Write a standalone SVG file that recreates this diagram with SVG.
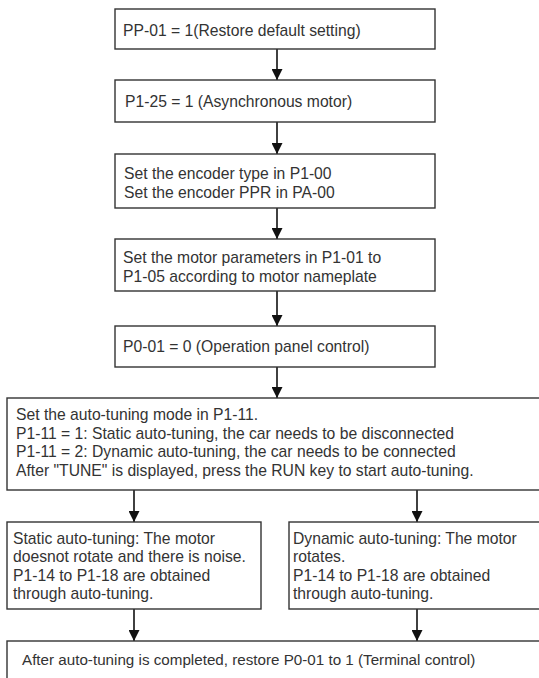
<svg xmlns="http://www.w3.org/2000/svg" width="539" height="678" viewBox="0 0 539 678">
<style>
.box{fill:#fff;stroke:#333;stroke-width:1.4}
.t{font-family:"Liberation Sans",Arial,sans-serif;font-size:15.7px;fill:#333}
.c{stroke:#111;stroke-width:1.6;fill:none;marker-end:url(#ah)}
</style>
<defs>
<marker id="ah" markerUnits="userSpaceOnUse" markerWidth="12" markerHeight="11" refX="11" refY="5.5" orient="auto">
<path d="M0,0 L11,5.5 L0,11 z" fill="#111"/>
</marker>
</defs>
<rect width="539" height="678" fill="#fff"/>
<g id="connectors">
<line class="c" x1="277" y1="49" x2="277" y2="80"/>
<line class="c" x1="277" y1="122" x2="277" y2="154"/>
<line class="c" x1="277" y1="208" x2="277" y2="239"/>
<line class="c" x1="277" y1="291" x2="277" y2="326"/>
<line class="c" x1="277" y1="367" x2="277" y2="398"/>
<line class="c" x1="134" y1="490" x2="134" y2="522"/>
<line class="c" x1="417" y1="490" x2="417" y2="522"/>
<line class="c" x1="134" y1="609" x2="134" y2="641"/>
<line class="c" x1="417" y1="609" x2="417" y2="641"/>
</g>
<g id="n1"><rect class="box" x="115" y="9" width="320" height="40"/>
<text class="t" x="123" y="36">PP-01 = 1(Restore default setting)</text></g>
<g id="n2"><rect class="box" x="115" y="80" width="320" height="42"/>
<text class="t" x="125" y="107">P1-25 = 1 (Asynchronous motor)</text></g>
<g id="n3"><rect class="box" x="115" y="154" width="320" height="54"/>
<text class="t" x="124" y="179">Set the encoder type in P1-00</text>
<text class="t" x="124" y="198">Set the encoder PPR in PA-00</text></g>
<g id="n4"><rect class="box" x="115" y="239" width="320" height="52"/>
<text class="t" x="123" y="263">Set the motor parameters in P1-01 to</text>
<text class="t" x="123" y="282">P1-05 according to motor nameplate</text></g>
<g id="n5"><rect class="box" x="115" y="326" width="320" height="41"/>
<text class="t" x="123" y="352">P0-01 = 0 (Operation panel control)</text></g>
<g id="n6"><rect class="box" x="7" y="398" width="540" height="92"/>
<text class="t" x="16" y="420">Set the auto-tuning mode in P1-11.</text>
<text class="t" x="16" y="439">P1-11 = 1: Static auto-tuning, the car needs to be disconnected</text>
<text class="t" x="16" y="457">P1-11 = 2: Dynamic auto-tuning, the car needs to be connected</text>
<text class="t" x="16" y="476">After "TUNE" is displayed, press the RUN key to start auto-tuning.</text></g>
<g id="n7"><rect class="box" x="7" y="522" width="254" height="87"/>
<text class="t" x="13" y="544">Static auto-tuning: The motor</text>
<text class="t" x="13" y="562">doesnot rotate and there is noise.</text>
<text class="t" x="13" y="581">P1-14 to P1-18 are obtained</text>
<text class="t" x="13" y="599">through auto-tuning.</text></g>
<g id="n8"><rect class="box" x="289" y="522" width="258" height="87"/>
<text class="t" x="293" y="544">Dynamic auto-tuning: The motor</text>
<text class="t" x="293" y="562">rotates.</text>
<text class="t" x="293" y="581">P1-14 to P1-18 are obtained</text>
<text class="t" x="293" y="599">through auto-tuning.</text></g>
<g id="n9"><rect class="box" x="7" y="641" width="540" height="45"/>
<text class="t" x="22" y="665" style="font-size:15.2px">After auto-tuning is completed, restore P0-01 to 1 (Terminal control)</text></g>
</svg>
